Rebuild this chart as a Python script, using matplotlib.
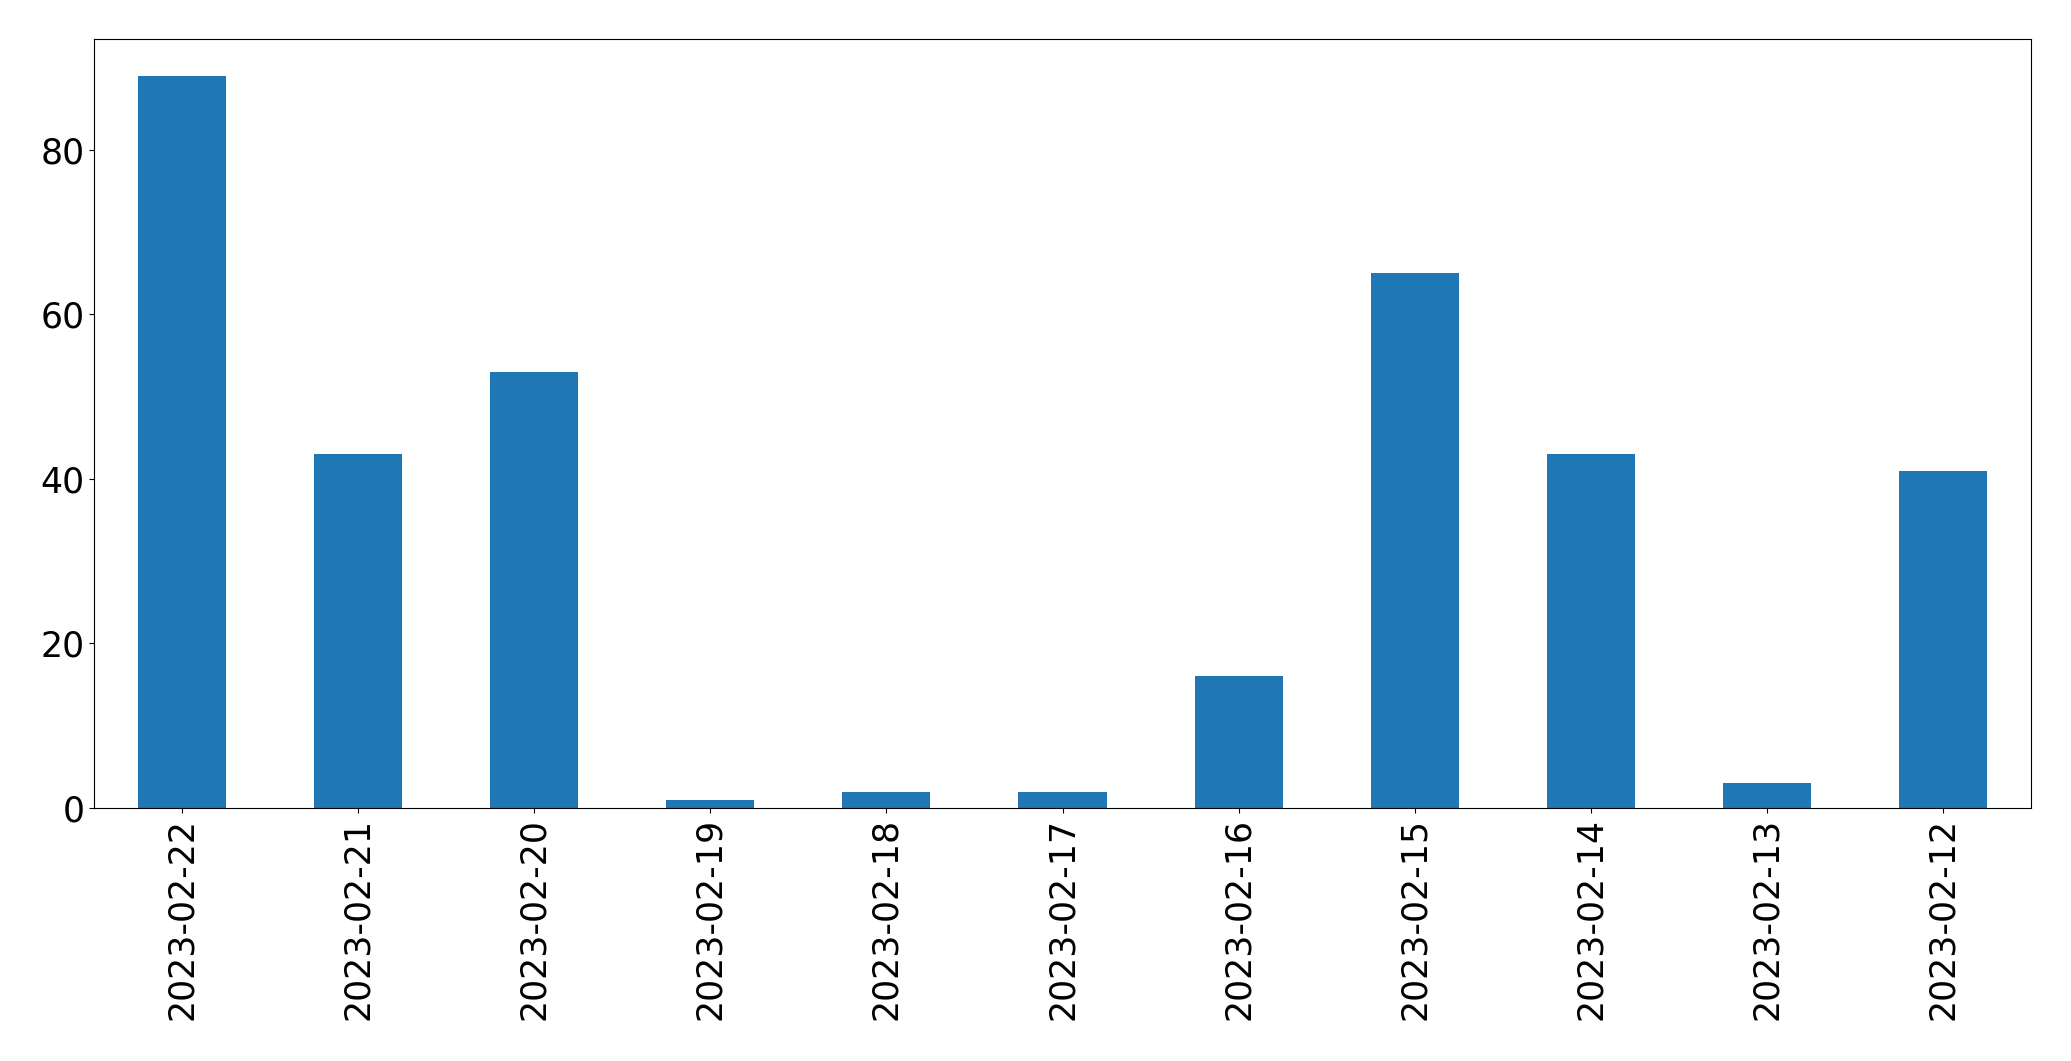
import matplotlib
matplotlib.use("Agg")
import matplotlib.pyplot as plt
import pandas as pd

dates = ["2023-02-22", "2023-02-21", "2023-02-20", "2023-02-19", "2023-02-18",
         "2023-02-17", "2023-02-16", "2023-02-15", "2023-02-14", "2023-02-13",
         "2023-02-12"]
counts = [89, 43, 53, 1, 2, 2, 16, 65, 43, 3, 41]

s = pd.Series(counts, index=dates)

fig = plt.figure(figsize=(20.71, 10.61), dpi=100)
ax = fig.add_axes([94 / 2071, 1 - 808 / 1061, (2031 - 94) / 2071, (808 - 39) / 1061])
s.plot(kind="bar", ax=ax, color="#1f77b4", fontsize=25)
ax.set_ylim(0, 89 * 1.05)
fig.savefig("out.png", dpi=100)
